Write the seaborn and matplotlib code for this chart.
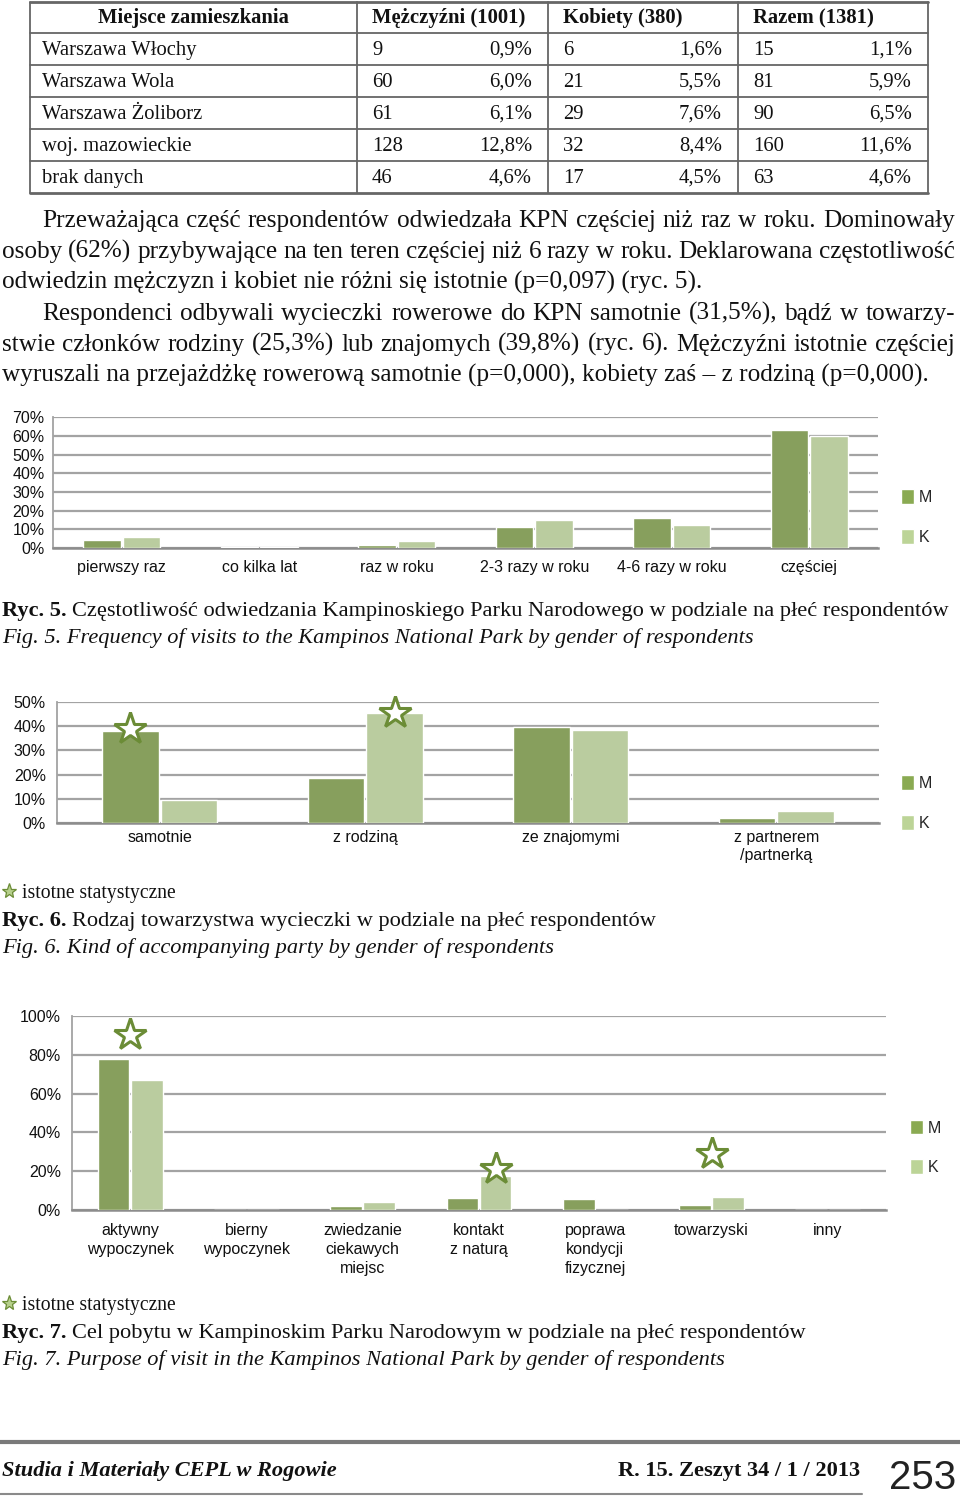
import matplotlib
matplotlib.use("Agg")
import matplotlib.pyplot as plt
import seaborn as sns
import pandas as pd
from matplotlib.patches import Patch
from matplotlib.lines import Line2D

sns.set_style("white")
plt.rcParams["font.family"] = ["Liberation Sans", "DejaVu Sans"]

# ---------------- data ----------------
table_head = ["Miejsce zamieszkania", "Mężczyźni (1001)", "Kobiety (380)", "Razem (1381)"]
places = ["Warszawa Włochy", "Warszawa Wola", "Warszawa Żoliborz", "woj. mazowieckie", "brak danych"]
men_n = [9, 60, 61, 128, 46]
men_pct = [0.9, 6.0, 6.1, 12.8, 4.6]
women_n = [6, 21, 29, 32, 17]
women_pct = [1.6, 5.5, 7.6, 8.4, 4.5]
total_n = [15, 81, 90, 160, 63]
total_pct = [1.1, 5.9, 6.5, 11.6, 4.6]

sexes = ["M", "K"]

freq_labels = ["pierwszy raz", "co kilka lat", "raz w roku", "2-3 razy w roku", "4-6 razy w roku", "częściej"]
freq_m = [4.4, 0.4, 1.8, 11.5, 15.8, 63.1]
freq_k = [5.7, 0.6, 3.6, 14.9, 12.3, 60.0]

comp_labels = ["samotnie", "z rodziną", "ze znajomymi", "z partnerem\n/partnerką"]
comp_m = [37.9, 18.4, 39.6, 2.1]
comp_k = [9.4, 45.4, 38.6, 5.0]
comp_stars = [(0, "M", 38.8), (1, "K", 45.7)]

purpose_labels = ["aktywny\nwypoczynek", "bierny\nwypoczynek", "zwiedzanie\nciekawych\nmiejsc",
                  "kontakt\nz naturą", "poprawa\nkondycji\nfizycznej", "towarzyski", "inny"]
purpose_m = [77.6, 0.0, 2.4, 6.5, 5.7, 2.7, 0.3]
purpose_k = [67.1, 0.0, 4.5, 17.6, 0.0, 7.0, 0.0]
purpose_stars = [(0, "c", 90), (3, "K", 21), (5, "c", 29)]

para_lines = [
    ("Przeważająca część respondentów odwiedzała KPN częściej niż raz w roku. Dominowały", True, True),
    ("osoby (62%) przybywające na ten teren częściej niż 6 razy w roku. Deklarowana częstotliwość", False, True),
    ("odwiedzin mężczyzn i kobiet nie różni się istotnie (p=0,097) (ryc. 5).", False, False),
    ("Respondenci odbywali wycieczki rowerowe do KPN samotnie (31,5%), bądź w towarzy-", True, True),
    ("stwie członków rodziny (25,3%) lub znajomych (39,8%) (ryc. 6). Mężczyźni istotnie częściej", False, True),
    ("wyruszali na przejażdżkę rowerową samotnie (p=0,000), kobiety zaś – z rodziną (p=0,000).", False, False),
]

captions = [
    ("Ryc. 5.", " Częstotliwość odwiedzania Kampinoskiego Parku Narodowego w podziale na płeć respondentów",
     "Fig. 5. Frequency of visits to the Kampinos National Park by gender of respondents", 616),
    ("Ryc. 6.", " Rodzaj towarzystwa wycieczki w podziale na płeć respondentów",
     "Fig. 6. Kind of accompanying party by gender of respondents", 926),
    ("Ryc. 7.", " Cel pobytu w Kampinoskim Parku Narodowym w podziale na płeć respondentów",
     "Fig. 7. Purpose of visit in the Kampinos National Park by gender of respondents", 1338),
]

M_COL = "#8aaa52"
K_COL = "#bcd497"
STAR_COL = "#6b8c36"
GRID_COL = "#a3a3a3"
INK = "#111111"
SERIF = ["Liberation Serif", "DejaVu Serif"]
SANS = ["Liberation Sans", "DejaVu Sans"]

W, H = 960, 1498
fig = plt.figure(figsize=(9.6, 14.98), dpi=100)
renderer = fig.canvas.get_renderer()


def fx(px):
    return px / W


def fy(py):
    return 1 - py / H


def width_of(s, **kw):
    t = fig.text(0, 0, s, **kw)
    w = t.get_window_extent(renderer).width
    t.remove()
    return w


def size_for(s, target, **kw):
    return 20 * target / width_of(s, fontsize=20, **kw)


def hline(x0, x1, y, lw=1.3, color="#666666"):
    fig.add_artist(Line2D([fx(x0), fx(x1)], [fy(y), fy(y)], lw=lw, color=color,
                          transform=fig.transFigure))


def vline(x, y0, y1, lw=1.3, color="#666666"):
    fig.add_artist(Line2D([fx(x), fx(x)], [fy(y0), fy(y1)], lw=lw, color=color,
                          transform=fig.transFigure))


# ---------------- table ----------------
tsize = size_for("Warszawa Żoliborz", 160, family=SERIF)
row_y = [2, 33, 65, 97, 129, 161, 193]
cols = [30, 357, 548, 738, 928]
for i, y in enumerate(row_y):
    hline(cols[0], cols[-1], y, lw=2.0 if i in (0, len(row_y) - 1) else 1.3)
for x in cols:
    vline(x, row_y[0], row_y[-1])

hy = (row_y[0] + row_y[1]) / 2 + 6
fig.text(fx((cols[0] + cols[1]) / 2), fy(hy), table_head[0], ha="center", va="baseline",
         family=SERIF, fontsize=tsize, weight="bold", color=INK)
for j, h in enumerate(table_head[1:]):
    fig.text(fx(cols[j + 1] + 15), fy(hy), h, ha="left", va="baseline",
             family=SERIF, fontsize=tsize, weight="bold", color=INK)

for i, place in enumerate(places):
    y = (row_y[i + 1] + row_y[i + 2]) / 2 + 6
    fig.text(fx(42), fy(y), place, ha="left", va="baseline", family=SERIF, fontsize=tsize, color=INK)
    for j, (n, p) in enumerate([(men_n[i], men_pct[i]), (women_n[i], women_pct[i]), (total_n[i], total_pct[i])]):
        fig.text(fx(cols[j + 1] + 15), fy(y), str(n), ha="left", va="baseline",
                 family=SERIF, fontsize=tsize, color=INK)
        fig.text(fx(cols[j + 2] - 16), fy(y), f"{p:.1f}%".replace(".", ","), ha="right", va="baseline",
                 family=SERIF, fontsize=tsize, color=INK)

# ---------------- paragraph ----------------
psize = size_for(para_lines[5][0], 925, family=SERIF)
for k, (line, indent, justify) in enumerate(para_lines):
    y = 227 + k * 31
    x0 = 42 if indent else 2
    x1 = 955
    if not justify:
        fig.text(fx(x0), fy(y), line, ha="left", va="baseline", family=SERIF, fontsize=psize, color=INK)
        continue
    words = line.split(" ")
    ws = [width_of(w, family=SERIF, fontsize=psize) for w in words]
    gap = (x1 - x0 - sum(ws)) / (len(words) - 1)
    x = x0
    for w, wd in zip(words, ws):
        fig.text(fx(x), fy(y), w, ha="left", va="baseline", family=SERIF, fontsize=psize, color=INK)
        x += wd + gap

# ---------------- captions ----------------
csize = size_for(captions[2][2], 722, family=SERIF, style="italic")
space = width_of("a a", family=SERIF, fontsize=csize) - 2 * width_of("a", family=SERIF, fontsize=csize)
for bold, rest, eng, y in captions:
    fig.text(fx(2), fy(y), bold, ha="left", va="baseline", family=SERIF, fontsize=csize,
             weight="bold", color=INK)
    bw = width_of(bold, family=SERIF, fontsize=csize, weight="bold")
    fig.text(fx(2 + bw + space), fy(y), rest.strip(), ha="left", va="baseline", family=SERIF,
             fontsize=csize, color=INK)
    fig.text(fx(2), fy(y + 27), eng, ha="left", va="baseline", family=SERIF, fontsize=csize,
             style="italic", color=INK)

ssize = size_for("istotne statystyczne", 153, family=SERIF)
for y in (898, 1310):
    fig.add_artist(Line2D([fx(9)], [fy(y - 7)], marker="*", ms=11, mfc="#b7d08c", mec=STAR_COL,
                          mew=0.9, transform=fig.transFigure))
    fig.text(fx(22), fy(y), "istotne statystyczne", ha="left", va="baseline", family=SERIF,
             fontsize=ssize, color=INK)


# ---------------- charts ----------------
def chart(box, labels, m_vals, k_vals, ymax, step, ypad, xpad, legend_at, stars=(), lsp=1.3):
    x0, x1, ytop, ybot = box
    n = len(labels)
    ax = fig.add_axes([fx(x0), fy(ybot), (x1 - x0) / W, (ybot - ytop) / H])
    df = pd.DataFrame({"cat": labels * 2, "sex": ["M"] * n + ["K"] * n, "val": m_vals + k_vals})
    sns.barplot(data=df, x="cat", y="val", hue="sex", hue_order=sexes, palette=[M_COL, K_COL],
                width=0.57, gap=0.04, errorbar=None, legend=False, ax=ax, zorder=3)
    ax.set_xlim(-0.5, n - 0.5)
    ax.set_ylim(0, ymax)
    ticks = list(range(0, ymax + 1, step))
    ax.set_yticks(ticks)
    ax.set_yticklabels([f"{t}%" for t in ticks])
    ax.set_xticks(range(n))
    ax.set_xticklabels(labels, linespacing=lsp)
    ax.set_xlabel("")
    ax.set_ylabel("")
    ax.grid(axis="y", color=GRID_COL, lw=1.6, zorder=0)
    ax.set_axisbelow(True)
    for s in ("top", "right"):
        ax.spines[s].set_visible(False)
    ax.spines["left"].set_color(GRID_COL)
    ax.spines["left"].set_linewidth(1.3)
    ax.spines["bottom"].set_color("#8c8c8c")
    ax.spines["bottom"].set_linewidth(1.8)
    ax.tick_params(axis="y", length=0, pad=ypad, labelsize=11.5, labelcolor=INK)
    ax.tick_params(axis="x", length=0, pad=xpad, labelsize=11.5, labelcolor=INK)
    off = {"M": -0.1425, "K": 0.1425, "c": 0.0}
    for cat, which, y in stars:
        ax.plot(cat + off[which], y, marker="*", ms=24, mfc="white", mec=STAR_COL, mew=2.2,
                clip_on=False, zorder=6)
    handles = [Patch(facecolor=M_COL, label="M"), Patch(facecolor=K_COL, label="K")]
    fig.legend(handles=handles, loc="center left", bbox_to_anchor=(fx(legend_at[0]), fy(legend_at[1])),
               frameon=False, fontsize=11.5, handlelength=0.8, handleheight=1.05, handletextpad=0.3,
               labelspacing=1.5, borderpad=0, borderaxespad=0)
    return ax


chart((53, 878, 417.3, 548), freq_labels, freq_m, freq_k, 70, 10, 6, 9, (901, 517))
chart((57, 879, 702.3, 822.7), comp_labels, comp_m, comp_k, 50, 10, 8, 5, (901, 803), comp_stars)
chart((72, 886, 1015.7, 1210.3), purpose_labels, purpose_m, purpose_k, 100, 20, 8, 9, (910, 1147.5),
      purpose_stars, lsp=1.35)

# ---------------- footer ----------------
hline(0, 960, 1442, lw=3.0, color="#7a7a7a")
hline(0, 862, 1494, lw=1.5, color="#8a8a8a")
fsize = size_for("Studia i Materiały CEPL w Rogowie", 334, family=SERIF, weight="bold", style="italic")
fig.text(fx(2), fy(1476), "Studia i Materiały CEPL w Rogowie", ha="left", va="baseline",
         family=SERIF, fontsize=fsize, weight="bold", style="italic", color=INK)
fig.text(fx(860), fy(1476), "R. 15. Zeszyt 34 / 1 / 2013", ha="right", va="baseline",
         family=SERIF, fontsize=fsize, weight="bold", color=INK)
fig.text(fx(956), fy(1497), "253", ha="right", va="bottom",
         family=SANS, fontsize=29, color="#222222")

fig.savefig("out.png", dpi=100, facecolor="white")
